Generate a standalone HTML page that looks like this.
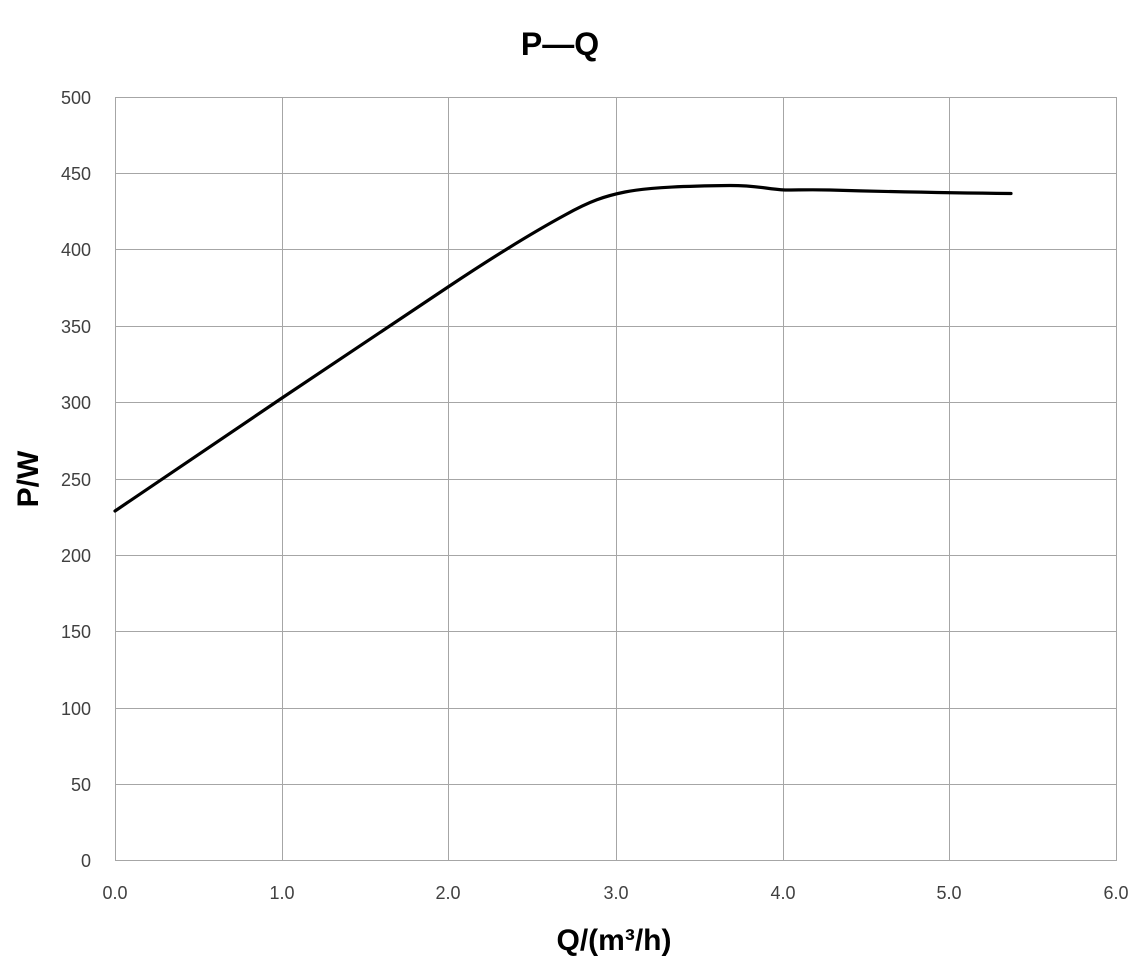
<!DOCTYPE html>
<html><head><meta charset="utf-8"><style>
html,body{margin:0;padding:0;background:#fff;}
svg{display:block;font-family:"Liberation Sans",sans-serif;}
</style></head><body>
<svg width="1143" height="957" viewBox="0 0 1143 957" xmlns="http://www.w3.org/2000/svg">
<rect width="1143" height="957" fill="#fff"/>
<g stroke="#a6a6a6" stroke-width="1">
<line x1="115" y1="97.5" x2="1116" y2="97.5"/>
<line x1="115" y1="173.5" x2="1116" y2="173.5"/>
<line x1="115" y1="249.5" x2="1116" y2="249.5"/>
<line x1="115" y1="326.5" x2="1116" y2="326.5"/>
<line x1="115" y1="402.5" x2="1116" y2="402.5"/>
<line x1="115" y1="479.5" x2="1116" y2="479.5"/>
<line x1="115" y1="555.5" x2="1116" y2="555.5"/>
<line x1="115" y1="631.5" x2="1116" y2="631.5"/>
<line x1="115" y1="708.5" x2="1116" y2="708.5"/>
<line x1="115" y1="784.5" x2="1116" y2="784.5"/>
<line x1="115.5" y1="97" x2="115.5" y2="861"/>
<line x1="282.5" y1="97" x2="282.5" y2="861"/>
<line x1="448.5" y1="97" x2="448.5" y2="861"/>
<line x1="616.5" y1="97" x2="616.5" y2="861"/>
<line x1="783.5" y1="97" x2="783.5" y2="861"/>
<line x1="949.5" y1="97" x2="949.5" y2="861"/>
<line x1="1116.5" y1="97" x2="1116.5" y2="861"/>
<line x1="115" y1="860.5" x2="1116" y2="860.5"/>
</g>
<g font-size="18" fill="#404040" text-anchor="end">
<text x="91" y="104">500</text><text x="91" y="180">450</text><text x="91" y="256">400</text>
<text x="91" y="333">350</text><text x="91" y="409">300</text><text x="91" y="486">250</text>
<text x="91" y="562">200</text><text x="91" y="638">150</text><text x="91" y="715">100</text>
<text x="91" y="791">50</text><text x="91" y="867">0</text>
</g>
<g font-size="18" fill="#404040" text-anchor="middle">
<text x="115" y="899">0.0</text><text x="282" y="899">1.0</text><text x="448" y="899">2.0</text>
<text x="616" y="899">3.0</text><text x="783" y="899">4.0</text><text x="949" y="899">5.0</text>
<text x="1116" y="899">6.0</text>
</g>
<path d="M115,511 L282,398 L448,287 C490,259 530,234 565,215 C590,201 605,196 625,192 C650,187 690,186 730,185.5 C760,185.5 765,189 785,190 C800,190 810,189.5 830,190 C900,192 950,193 1011,193.5" fill="none" stroke="#000" stroke-width="3.2" stroke-linejoin="round" stroke-linecap="round"/>
<text x="560" y="55" font-size="32" font-weight="bold" text-anchor="middle" fill="#000">P—Q</text>
<text x="614" y="950" font-size="30" font-weight="bold" text-anchor="middle" fill="#000">Q/(m³/h)</text>
<text transform="translate(38,479) rotate(-90)" font-size="30" font-weight="bold" text-anchor="middle" fill="#000">P/W</text>
</svg>
</body></html>
